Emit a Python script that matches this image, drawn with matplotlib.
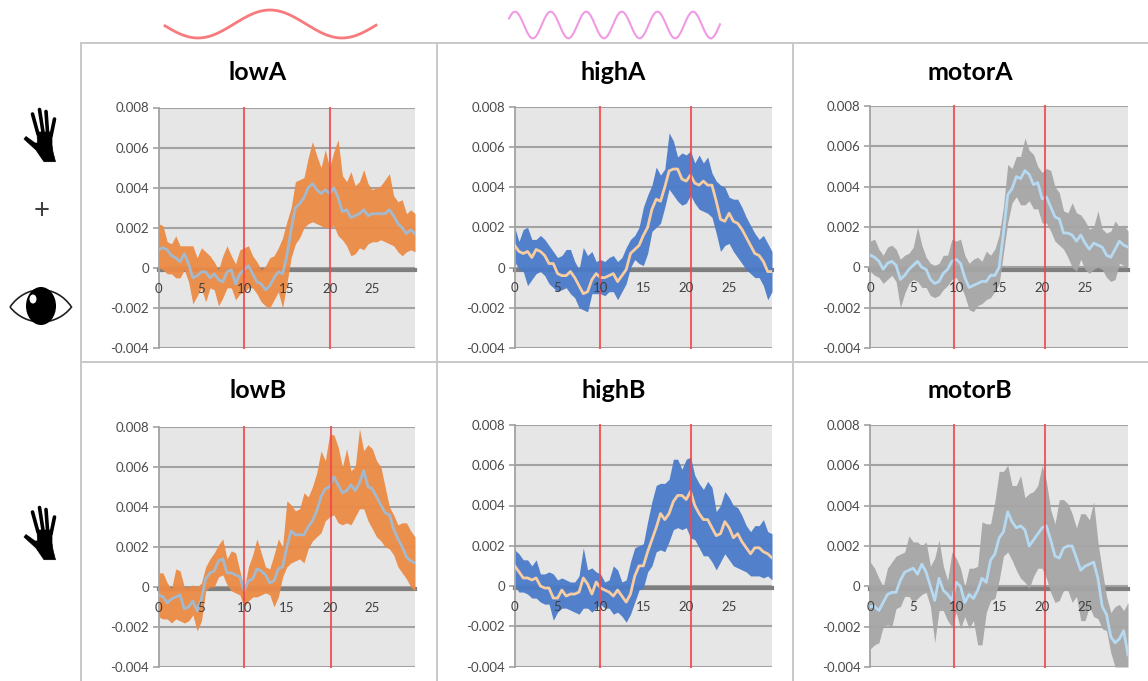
import numpy as np
import matplotlib
matplotlib.use('Agg')
import matplotlib.pyplot as plt
from matplotlib.patches import Ellipse, Polygon, PathPatch
from matplotlib.path import Path

plt.rcParams['font.family'] = ['Lato', 'DejaVu Sans']

W, H = 1148, 681

# time axis of every panel, values below are in units of 1e-3
t = np.arange(0, 30.5, 0.5)
y_ticks = [-0.004, -0.002, 0, 0.002, 0.004, 0.006, 0.008]
y_labels = ['-0.004', '-0.002', '0', '0.002', '0.004', '0.006', '0.008']
x_ticks = [0, 5, 10, 15, 20, 25]

lowA_mean = [0.9,1.0,0.9,0.6,0.5,0.3,0.7,0.2,-0.5,-0.4,-0.2,-0.2,-0.5,-0.3,-0.6,-0.7,-0.2,-0.1,-0.8,-0.3,-0.1,0.1,-0.3,-0.7,-0.8,-1.1,-0.9,-0.5,-0.2,-0.3,0.6,1.9,3.0,3.2,3.5,4.0,4.2,3.9,3.7,3.9,3.7,4.0,3.5,2.8,2.9,2.5,2.6,2.7,2.9,2.6,2.7,2.7,2.7,2.7,2.9,2.6,2.2,2.0,1.7,1.9,1.7]
lowA_upper = [2.2,2.1,1.3,1.2,1.6,1.1,1.1,1.1,1.1,0.5,1.0,0.8,0.6,0.3,-0.1,0.6,1.1,0.6,0.2,0.9,1.0,1.1,0.6,0.3,-0.1,0.1,0.5,0.6,1.0,1.5,2.3,3.0,4.3,4.4,4.5,5.5,6.3,5.6,5.0,5.9,5.0,5.8,6.4,4.6,4.3,4.8,4.1,4.3,4.9,4.2,3.9,4.0,4.1,4.4,4.7,3.6,3.3,3.4,2.7,2.9,2.7]
lowA_lower = [0.0,-0.1,-0.3,-0.3,-0.5,-0.5,-0.1,-0.7,-1.8,-1.4,-1.0,-1.7,-1.0,-1.1,-1.9,-1.5,-1.0,-1.0,-1.6,-1.3,-1.2,-1.0,-1.0,-1.3,-1.7,-1.9,-2.0,-1.6,-1.2,-2.0,-0.8,0.5,1.2,1.5,2.0,2.2,2.3,2.2,2.1,2.0,2.0,2.1,1.6,1.4,1.1,0.6,0.7,1.0,0.9,1.2,1.3,1.3,1.4,1.3,1.2,1.1,0.8,0.6,0.8,0.9,0.8]

highA_mean = [1.1,0.8,0.7,0.8,0.5,0.9,0.8,0.6,0.2,0.2,-0.3,-0.4,-0.4,-0.2,-0.5,-0.9,-1.3,-1.2,-0.6,-0.3,-0.5,-0.5,-0.4,-0.3,-0.7,-0.4,-0.1,0.7,0.9,1.1,1.6,2.0,2.9,3.4,3.3,4.0,4.8,4.9,4.9,4.4,4.3,4.6,4.2,4.1,4.3,4.1,4.1,3.3,2.4,2.3,2.7,2.3,2.2,1.9,1.5,1.1,0.7,0.6,0.3,-0.2,-0.2]
highA_upper = [2.0,1.3,1.9,2.0,1.4,1.4,1.6,1.4,1.1,0.8,0.5,0.6,0.9,0.9,0.3,-0.1,1.0,0.6,0.8,0.3,0.4,0.3,0.5,0.6,0.3,0.5,1.0,1.4,1.6,2.0,3.0,3.6,4.1,5.0,4.6,4.9,6.7,6.3,5.5,5.7,5.6,5.8,5.2,5.6,5.2,5.5,4.7,4.3,4.1,4.0,3.5,3.4,3.4,3.0,2.5,2.1,1.7,1.4,1.6,1.2,0.8]
highA_lower = [0.3,-0.1,-0.2,-0.9,-0.6,-0.3,-0.2,-0.4,-0.8,-1.0,-1.2,-1.1,-1.0,-1.3,-1.5,-2.0,-2.1,-2.2,-1.3,-1.3,-1.3,-1.4,-1.2,-1.2,-1.6,-1.2,-0.8,0.0,0.4,0.2,0.1,0.7,1.8,2.0,2.2,3.0,3.9,3.6,3.3,3.1,3.2,3.6,3.2,2.9,2.8,2.7,2.5,1.7,0.8,1.1,1.2,0.8,0.5,0.2,-0.1,-0.3,-0.5,-0.5,-0.9,-1.6,-1.2]

motorA_mean = [0.6,0.5,0.3,-0.1,0.2,0.3,0.1,-0.6,-0.4,-0.1,0.1,0.3,0.0,-0.1,-0.6,-0.8,-0.7,-0.3,-0.1,0.3,0.4,0.2,-0.5,-1.0,-0.9,-0.8,-0.7,-0.7,-0.4,-0.4,0.0,1.7,3.6,3.9,4.5,4.4,4.8,4.6,4.1,4.2,3.4,3.5,3.0,2.5,2.4,1.7,1.7,1.6,1.3,1.6,1.2,0.9,1.2,1.1,1.0,0.6,0.5,0.9,1.3,1.1,1.0]
motorA_upper = [1.3,1.4,0.9,0.6,1.0,1.1,0.9,0.4,0.6,0.7,1.0,2.0,1.1,0.5,0.2,0.1,0.2,0.6,0.6,1.4,1.3,1.4,0.6,0.2,0.4,0.5,0.3,0.8,0.6,0.9,1.6,3.0,5.1,4.9,5.5,5.5,6.4,5.8,5.6,5.0,4.7,4.9,4.8,4.0,3.7,2.8,2.7,3.2,2.7,2.6,2.3,1.9,2.0,2.8,1.9,1.7,1.8,2.3,2.0,2.1,1.8]
motorA_lower = [-0.2,-0.4,-0.5,-0.8,-0.6,-0.4,-0.7,-2.0,-1.3,-0.8,-0.6,-0.7,-1.0,-1.0,-1.4,-1.5,-1.4,-1.1,-0.9,-0.6,-0.5,-0.9,-1.4,-2.1,-2.2,-1.9,-1.8,-1.6,-1.5,-1.2,-0.8,0.7,2.2,3.2,3.5,3.1,3.1,3.3,2.9,2.9,2.2,2.2,1.8,1.3,1.1,0.9,0.5,0.0,-0.2,0.4,-0.1,-0.3,-0.1,0.0,-0.1,-0.5,-0.7,-0.6,0.2,0.1,0.0]

lowB_mean = [-0.4,-0.5,-0.8,-0.6,-0.5,-0.4,-1.1,-1.0,-0.7,-1.2,-0.6,0.4,0.7,0.8,1.3,1.4,0.7,0.7,0.6,0.5,-0.2,0.3,0.4,0.9,0.8,0.6,0.2,0.3,0.9,1.0,2.0,2.8,2.6,2.6,2.6,3.0,3.3,3.8,4.5,4.9,5.0,5.5,5.1,4.7,4.8,5.1,4.8,5.2,5.8,5.0,4.9,4.5,4.1,3.7,3.6,2.9,2.4,2.0,1.5,1.3,1.2]
lowB_upper = [0.7,0.7,0.2,-0.1,0.9,0.8,0.0,0.0,0.1,0.0,0.2,1.0,1.4,1.7,2.1,2.4,1.4,1.8,1.7,0.8,-0.1,1.0,1.6,2.4,1.7,1.0,0.9,1.6,2.4,2.0,4.3,4.1,3.8,3.9,4.7,4.5,5.0,5.7,6.8,6.3,7.6,7.6,7.0,6.0,6.9,5.8,6.0,7.9,6.8,7.1,6.9,6.3,6.0,5.0,4.0,3.6,3.1,3.2,3.2,2.8,2.5]
lowB_lower = [-1.5,-1.6,-1.6,-1.8,-1.6,-1.7,-1.8,-1.7,-1.4,-2.2,-1.7,-0.2,0.0,0.0,0.5,0.6,0.1,-0.2,-0.3,-0.4,-1.0,-0.7,-0.5,-0.5,-0.4,-0.3,-0.4,-1.0,-0.5,0.5,1.0,1.2,1.3,1.4,1.2,1.9,2.3,2.5,2.7,3.3,3.5,3.6,3.2,3.1,3.2,3.1,3.5,3.9,3.9,3.3,2.9,2.5,2.3,2.0,1.9,1.6,1.0,0.7,0.4,0.0,-0.2]

highB_mean = [1.0,0.7,0.4,0.4,0.3,0.4,0.0,-0.1,-0.1,-0.6,-0.6,-0.2,-0.5,-0.4,-0.4,-0.3,0.4,0.1,-0.4,0.2,-0.1,-0.2,-0.3,-0.5,-0.2,-0.5,-0.8,-0.4,0.5,1.0,1.0,1.7,2.3,2.9,3.6,3.3,3.6,4.2,4.5,4.5,4.3,4.7,4.0,3.6,3.3,3.3,2.9,2.5,2.6,3.2,2.9,2.4,2.6,2.2,1.9,1.6,1.9,1.9,1.7,1.6,1.4]
highB_upper = [1.8,1.6,1.3,1.3,1.0,1.3,0.6,0.6,0.7,0.6,0.3,0.4,0.3,0.2,0.2,0.5,1.9,0.8,0.9,0.7,0.6,0.2,0.3,1.0,0.8,0.2,0.3,1.2,1.9,2.0,2.1,3.2,4.2,5.0,5.1,5.1,5.3,6.3,6.3,5.8,6.3,6.4,5.5,5.1,4.8,5.2,4.9,3.7,4.0,4.7,4.4,4.0,3.9,3.5,3.0,2.7,3.0,3.0,3.3,2.7,2.6]
highB_lower = [0.0,-0.3,-0.3,-0.4,-0.6,-0.6,-0.8,-0.9,-0.9,-1.7,-1.3,-1.1,-1.1,-1.2,-1.3,-1.4,-1.1,-1.1,-1.3,-1.1,-0.9,-1.1,-1.1,-1.4,-1.3,-1.5,-1.8,-1.4,-0.8,-0.2,-0.1,0.7,1.0,1.7,1.8,1.7,2.2,2.8,2.9,2.8,2.9,2.4,2.3,1.9,1.5,1.5,1.2,0.8,1.2,1.6,1.3,1.0,0.9,0.8,0.7,0.5,0.5,0.5,0.4,0.5,0.3]

motorB_mean = [-1.0,-1.0,-1.2,-0.8,-0.4,-0.3,-0.3,0.3,0.7,0.8,0.9,0.6,1.1,0.7,0.0,-0.7,0.4,-0.2,-0.4,-0.7,0.2,0.0,-0.8,-0.4,-0.6,-0.2,0.4,0.2,1.3,1.6,2.4,2.7,3.7,3.2,2.9,3.0,2.8,2.0,2.3,2.6,2.9,3.0,2.3,1.5,1.4,1.9,2.0,2.0,1.4,0.8,1.0,1.1,1.2,0.4,-1.0,-1.4,-2.5,-2.8,-2.6,-2.2,-3.4]
motorB_upper = [1.2,0.9,0.4,0.0,0.9,1.2,1.5,1.6,1.7,2.5,2.2,2.2,2.0,2.2,1.0,1.4,2.3,1.0,0.3,1.7,1.4,0.9,0.0,0.9,0.9,1.0,3.2,3.1,3.1,4.2,5.7,5.7,6.0,5.0,5.0,5.5,4.4,4.6,4.7,5.0,6.0,5.2,3.8,3.1,4.3,4.3,4.1,3.6,2.9,3.6,3.6,3.3,4.2,2.2,0.8,-0.5,-1.3,-1.0,-0.9,-1.2,-0.8]
motorB_lower = [-3.1,-2.9,-2.8,-2.0,-1.9,-2.0,-1.1,-1.0,-0.5,-0.5,-0.8,-0.6,-0.4,-0.3,-1.0,-2.8,-1.2,-1.2,-1.7,-2.0,-1.3,-2.1,-1.5,-2.1,-1.7,-2.9,-2.9,-1.3,-0.7,-0.6,0.3,1.5,1.7,1.3,0.8,0.4,0.2,-0.1,0.5,0.9,0.9,0.4,-0.3,-0.8,-0.7,-0.2,-0.2,-0.8,-0.5,-1.7,-1.7,-1.0,-1.5,-1.6,-2.1,-2.2,-3.3,-4.0,-4.0,-4.0,-4.0]

# title, mean, upper, lower, band colour, line colour, (left, top, right, bottom px), red line x, title x px, title y px
panels = [
    ('lowA', lowA_mean, lowA_upper, lowA_lower, '#EC8A45', '#A3B9CE', (158.7, 107.5, 415, 348), (10, 20), 258, 72),
    ('highA', highA_mean, highA_upper, highA_lower, '#4A7BC9', '#F8CDA2', (514.7, 106.7, 772, 348), (10, 20.5), 613, 72),
    ('motorA', motorA_mean, motorA_upper, motorA_lower, '#A6A6A6', '#B6DAF2', (870.3, 106, 1128, 348), (9.7, 20.3), 970, 72),
    ('lowB', lowB_mean, lowB_upper, lowB_lower, '#EC8A45', '#A3B9CE', (158.7, 426.7, 415, 667), (10, 20.2), 258, 390),
    ('highB', highB_mean, highB_upper, highB_lower, '#4A7BC9', '#F8CDA2', (514.7, 425, 772, 666.5), (10, 20.5), 614, 390),
    ('motorB', motorB_mean, motorB_upper, motorB_lower, '#A6A6A6', '#B6DAF2', (870.3, 425, 1128, 667), (9.7, 20.3), 970, 390),
]

fig = plt.figure(figsize=(W/100, H/100), dpi=100, facecolor='white')

# overlay in pixel coords for frame and icons
bg = fig.add_axes([0, 0, 1, 1], zorder=0)
bg.set_xlim(0, W)
bg.set_ylim(H, 0)
bg.axis('off')

frame = '#C8C8C8'
bg.plot([81, W], [43, 43], color=frame, lw=1.4)
bg.plot([81, W], [362, 362], color=frame, lw=1.4)
for xp in [81, 437, 793]:
    bg.plot([xp, xp], [43, H], color=frame, lw=1.4)

# little waves over the first two columns
xw = np.linspace(165, 376, 200)
bg.plot(xw, 24 - 14*np.cos(2*np.pi*(xw - 270)/144), color='#F87A7C', lw=2)
xw = np.linspace(509, 720, 300)
bg.plot(xw, 25 - 13.3*np.cos(2*np.pi*(xw - 515)/35.6), color='#F09AE4', lw=1.5)


def draw_hand(dy):
    palm = [(55.5, 161.7), (44, 161.7), (36, 150), (24, 139), (26, 136.5),
            (35, 143), (37.5, 143), (37, 132), (52, 132), (52, 145), (53, 152)]
    bg.add_patch(Polygon([(a, b + dy) for a, b in palm], closed=True, fc='black', ec='black', lw=0.5))
    fingers = [((38, 134), (32.5, 114)), ((43, 132), (39.5, 109.5)),
               ((47.5, 132), (46, 111.5)), ((51, 136), (54.5, 119))]
    for a, b in fingers:
        bg.plot([a[0], b[0]], [a[1] + dy, b[1] + dy], color='black', lw=2.6, solid_capstyle='round')


draw_hand(0)
draw_hand(398)

bg.text(41.7, 211.5, '+', fontsize=20, color='#404040', ha='center', va='center')

# eye
lid = Path([(10, 307), (26, 284), (56, 284), (71.5, 307), (56, 327), (26, 327), (10, 307)],
           [Path.MOVETO, Path.CURVE4, Path.CURVE4, Path.CURVE4, Path.CURVE4, Path.CURVE4, Path.CURVE4])
bg.add_patch(PathPatch(lid, fc='white', ec='#202020', lw=1.2))
bg.add_patch(Ellipse((41, 306), 30, 38, fc='black', ec='none'))
bg.add_patch(Ellipse((33, 299), 7, 9, fc='white', ec='none'))

for title, mean, upper, lower, band, line, box, reds, tx, ty in panels:
    left, top, right, bottom = box
    ax = fig.add_axes([left/W, 1 - bottom/H, (right - left)/W, (bottom - top)/H], zorder=2)
    ax.set_facecolor('#E6E6E6')
    ax.set_xlim(0, 30)
    ax.set_ylim(-0.004, 0.008)

    ax.fill_between(t, np.array(lower)*1e-3, np.array(upper)*1e-3, color=band, lw=0, alpha=0.95, zorder=1)
    ax.plot(t, np.array(mean)*1e-3, color=line, lw=2.0, zorder=3)
    for rx in reds:
        ax.plot([rx, rx], [-0.004, 0.008], color='#F0474C', lw=1.5, alpha=0.85, zorder=4, clip_on=False)

    ax.set_yticks(y_ticks)
    ax.set_yticklabels(y_labels)
    ax.set_xticks(x_ticks)
    ax.grid(axis='y', color='#A2A2A2', lw=1.5)
    ax.set_axisbelow(True)
    ax.xaxis.set_zorder(5)
    ax.tick_params(axis='y', length=4, width=1.2, color='#A2A2A2', labelcolor='#4A4A4A', labelsize=9.5, pad=3)
    ax.tick_params(axis='x', length=0, labelcolor='#404040', labelsize=9.5, pad=9)

    for s in ['top', 'right']:
        ax.spines[s].set_visible(False)
    ax.spines['left'].set_color('#A2A2A2')
    ax.spines['left'].set_linewidth(1.3)
    ax.spines['bottom'].set_position(('data', -0.00012))
    ax.spines['bottom'].set_color('#7F7F7F')
    ax.spines['bottom'].set_linewidth(3)
    ax.spines['bottom'].set_zorder(0.7)

    bg.text(tx, ty, title, fontsize=18, fontweight='bold', color='black', ha='center', va='center')

fig.savefig('out.png', dpi=100)
